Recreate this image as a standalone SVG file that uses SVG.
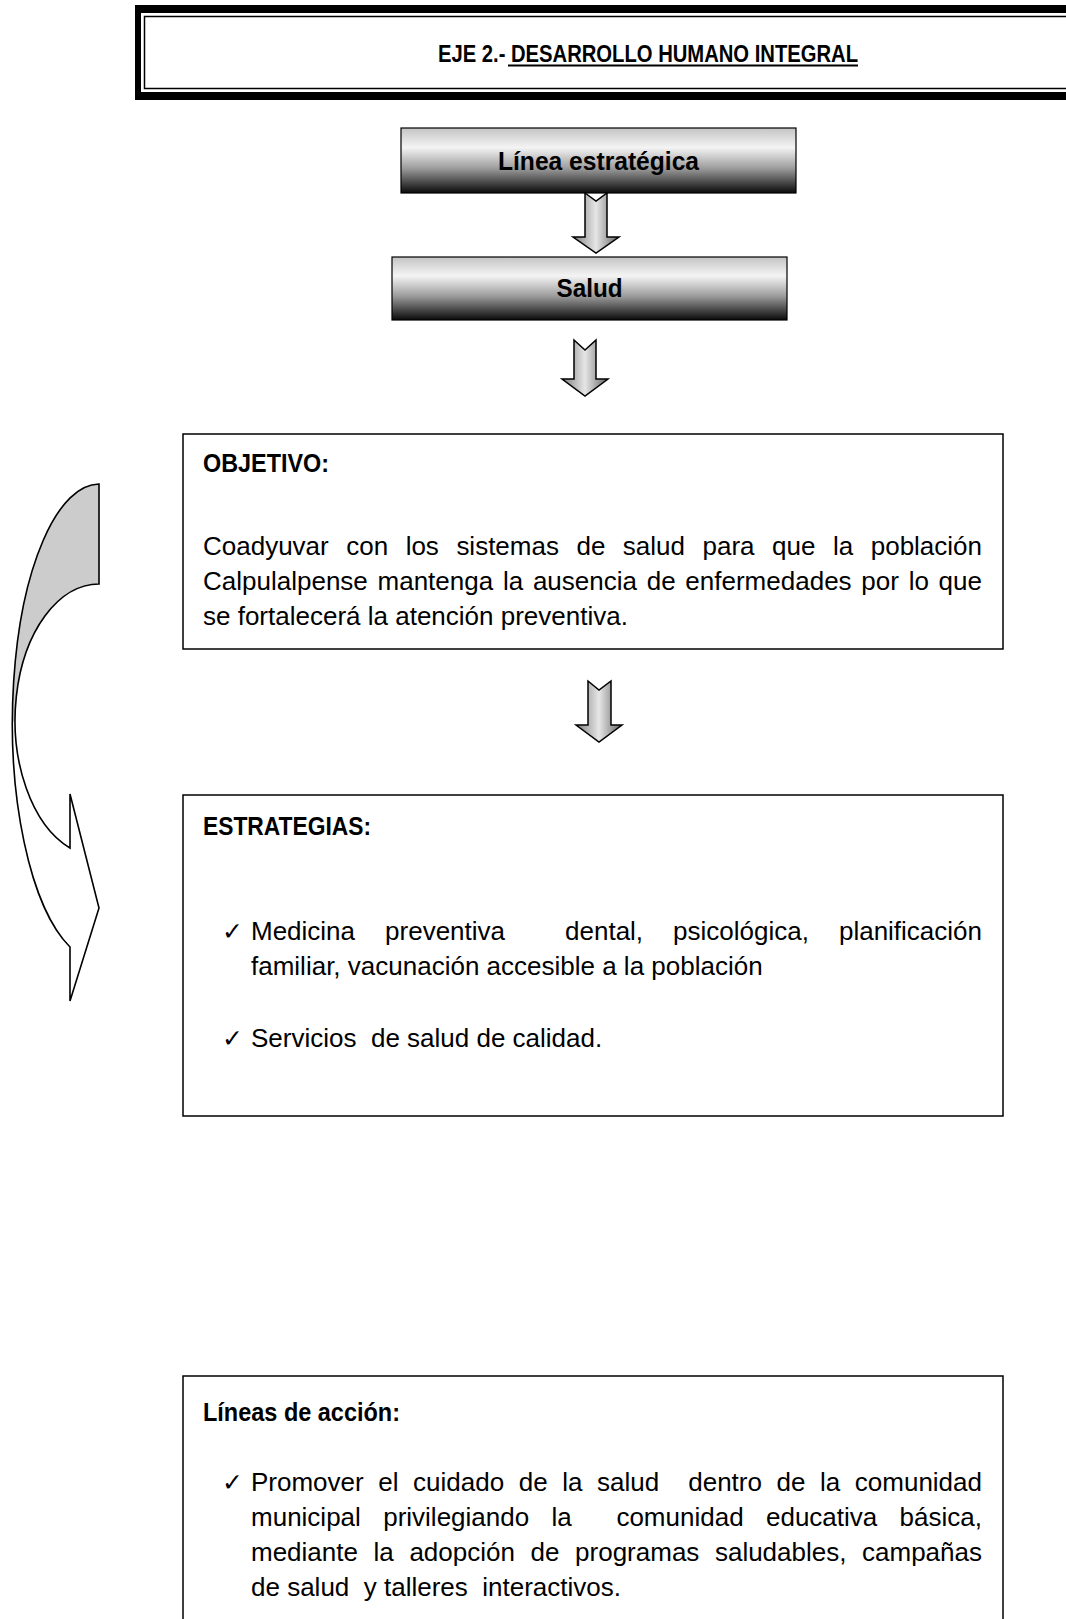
<svg xmlns="http://www.w3.org/2000/svg" width="1066" height="1619" viewBox="0 0 1066 1619">
<defs>
<linearGradient id="boxGrad" x1="0" y1="0" x2="0" y2="1">
<stop offset="0" stop-color="#c4c4c4"/>
<stop offset="0.3" stop-color="#f4f4f4"/>
<stop offset="0.62" stop-color="#9c9c9c"/>
<stop offset="1" stop-color="#0a0a0a"/>
</linearGradient>
<linearGradient id="arrGrad" x1="0" y1="0" x2="1" y2="0">
<stop offset="0" stop-color="#7e7e7e"/>
<stop offset="0.5" stop-color="#e6e6e6"/>
<stop offset="1" stop-color="#626262"/>
</linearGradient>
<style>
.t{font-family:"Liberation Sans",Arial,sans-serif;font-size:26px;fill:#000}
.b{font-family:"Liberation Sans",Arial,sans-serif;font-size:26px;font-weight:bold;fill:#000}
.h{font-family:"Liberation Sans",Arial,sans-serif;font-size:24.5px;font-weight:bold;fill:#000}
.ck{font-family:"DejaVu Sans",sans-serif;font-size:25px;fill:#000}
.box{fill:#fff;stroke:#000;stroke-width:1.5}
.gbox{fill:url(#boxGrad);stroke:#000;stroke-width:1.2}
.arr{fill:url(#arrGrad);stroke:#000;stroke-width:1.5;stroke-linejoin:miter}
.cv{stroke:#000;stroke-width:1.6;fill:none;stroke-linejoin:miter}
</style>
</defs>
<rect width="1066" height="1619" fill="#fff"/>

<g id="header">
<rect x="135" y="5" width="940" height="95" fill="#000"/>
<rect x="141" y="13" width="930" height="79" fill="#fff"/>
<rect x="144.5" y="16.5" width="930" height="72" fill="none" stroke="#000" stroke-width="1.5"/>
<text class="h" x="438" y="62" textLength="420" lengthAdjust="spacingAndGlyphs">EJE 2.- DESARROLLO HUMANO INTEGRAL</text>
<line x1="508" y1="65.5" x2="858" y2="65.5" stroke="#000" stroke-width="1.8"/>
</g>

<g id="linea-estrategica">
<rect class="gbox" x="401" y="128" width="395" height="65"/>
<text class="b" x="598.5" y="170" text-anchor="middle" textLength="201" lengthAdjust="spacingAndGlyphs">Línea estratégica</text>
</g>

<g id="salud">
<rect class="gbox" x="392" y="257" width="395" height="63"/>
<text class="b" x="589.5" y="297" text-anchor="middle" textLength="66" lengthAdjust="spacingAndGlyphs">Salud</text>
</g>

<g id="connectors">
<polygon class="arr" points="585,193 596,201 607,193 607,237 619,237 596,253 573,237 585,237"/>
<polygon class="arr" points="574,340 585,350 596,340 596,379 608,379 585,396 562,379 574,379"/>
<polygon class="arr" points="588,681 599,690 611,681 611,725 622,725 599,742 576,725 588,725"/>
<g id="curved-arrow">
<path d="M12,722.5 A87,238.5 0 0 0 70,947 L70,1001 L99,908 L70,794 L70,848 A84,136.2 0 0 1 15,720.2 Z" fill="#fff"/>
<path d="M99,484 A87,238.5 0 0 0 12,722.5 L15,720.2 A84,136.2 0 0 1 99,584 Z" fill="#cccccc"/>
<path class="cv" d="M99,584 L99,484 A87,238.5 0 0 0 70,947 L70,1001 L99,908 L70,794 L70,848 A84,136.2 0 0 1 99,584 Z"/>
</g>
</g>

<g id="objetivo">
<rect class="box" x="183" y="434" width="820" height="215"/>
<text class="b" x="203" y="472" textLength="126" lengthAdjust="spacingAndGlyphs">OBJETIVO:</text>
<text class="t" x="203" y="555" word-spacing="10.3" textLength="779" lengthAdjust="spacing">Coadyuvar con los sistemas de salud para que la población</text>
<text class="t" x="203" y="590" word-spacing="2.5" textLength="779" lengthAdjust="spacing">Calpulalpense mantenga la ausencia de enfermedades por lo que</text>
<text class="t" x="203" y="625">se fortalecerá la atención preventiva.</text>
</g>

<g id="estrategias">
<rect class="box" x="183" y="795" width="820" height="321"/>
<text class="b" x="203" y="835" textLength="168" lengthAdjust="spacingAndGlyphs">ESTRATEGIAS:</text>
<text class="ck" x="222" y="940">✓</text>
<text class="t" x="251" y="940" word-spacing="22.8" textLength="731" lengthAdjust="spacing" xml:space="preserve">Medicina preventiva  dental, psicológica, planificación</text>
<text class="t" x="251" y="975">familiar, vacunación accesible a la población</text>
<text class="ck" x="222" y="1047">✓</text>
<text class="t" x="251" y="1047" xml:space="preserve">Servicios  de salud de calidad.</text>
</g>

<g id="lineas-accion">
<rect class="box" x="183" y="1376" width="820" height="270"/>
<text class="b" x="203" y="1421" textLength="197" lengthAdjust="spacingAndGlyphs">Líneas de acción:</text>
<text class="ck" x="222" y="1491">✓</text>
<text class="t" x="251" y="1491" word-spacing="7.35" textLength="731" lengthAdjust="spacing" xml:space="preserve">Promover el cuidado de la salud  dentro de la comunidad</text>
<text class="t" x="251" y="1526" word-spacing="15.1" textLength="731" lengthAdjust="spacing" xml:space="preserve">municipal privilegiando la  comunidad educativa básica,</text>
<text class="t" x="251" y="1561" word-spacing="8.4" textLength="731" lengthAdjust="spacing">mediante la adopción de programas saludables, campañas</text>
<text class="t" x="251" y="1596" xml:space="preserve">de salud  y talleres  interactivos.</text>
</g>
</svg>
